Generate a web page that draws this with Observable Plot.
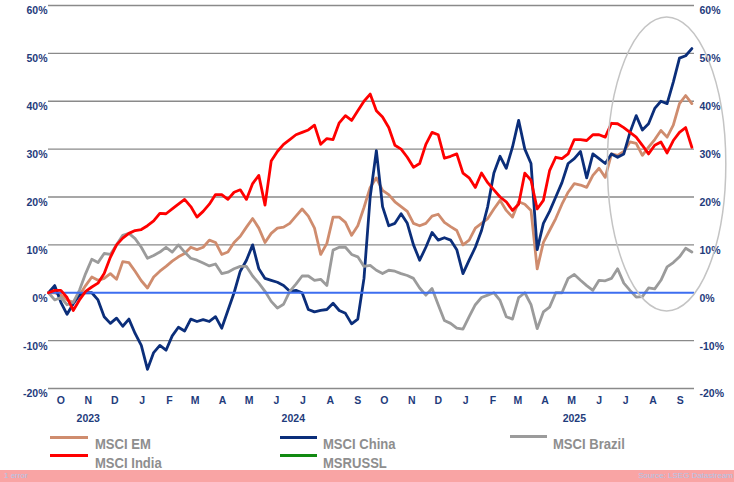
<!DOCTYPE html>
<html>
<head>
<meta charset="utf-8">
<script src="https://cdn.jsdelivr.net/npm/d3@7"></script>
<script src="https://cdn.jsdelivr.net/npm/@observablehq/plot@0.6"></script>
<style>
  body { margin: 0; background: #fff; }
  #wrap { position: relative; width: 734px; height: 482px; overflow: hidden; font-family: Arial, "Liberation Sans", sans-serif; }
  #chart { position: absolute; left: 0; top: 0; }
  .sw { position: absolute; height: 3px; }
  .lg { position: absolute; font-size: 15px; font-weight: bold; color: #8e8e8e; line-height: 15px; white-space: nowrap; transform: scaleX(0.87); transform-origin: left center; }
  #bar { position: absolute; left: 0; top: 470px; width: 734px; height: 12px; background: #f9a4a4; }
  .bt { position: absolute; top: 471px; font-size: 8px; line-height: 10px; color: #b0c6e8; white-space: nowrap; }
</style>
</head>
<body>
<div id="wrap">
  <div id="chart"></div>
  <div id="legend"></div>
  <div id="bar"></div>
  <div class="bt" style="left:4px">1 error</div>
  <div class="bt" style="right:1px">Source: LSEG Datastream</div>
</div>
<script>
// ---- data (weekly readings, % change since start) ----
const startDate = "2023-10-01";
const endDate = "2025-10-01";

const emValues = [0,0,-0.5,-1.5,-2,-0.5,1.5,3.3,2.6,3,
  4,2.8,6.5,6.3,4.5,2.5,1,3.3,4.5,5.5,
  6.6,7.5,8.2,9.5,9,9.5,11,10.5,8,8.5,
  10.5,11.8,13.7,15.5,13.5,10.5,12.4,13.5,13.7,14.5,
  16,17.5,16,13.5,8,10.3,15.8,15.8,14.7,12,
  14,17.8,22,24,21.4,20.5,19,18,17,14.5,
  14,14.5,16,16.4,14.7,13.8,13,10,11,13.5,
  14.5,15.5,17.5,19.3,17.2,15.8,19,18.5,17.2,5,
  10.5,13,15.5,18.5,21,22.8,22.5,22,24.5,26,
  24.1,29,28.7,29.5,31.5,31.2,28.7,30.4,32,33.9,
  32.5,35,39.5,41.2,39.5];

const chinaValues = [0,1.5,-2,-4.5,-2.3,-0.5,0,0,-1.5,-5,
  -6.4,-5.3,-7,-5.5,-8.5,-11,-16,-12.5,-11,-12,
  -9,-7.2,-8,-5.5,-6,-5.6,-6,-5,-7.4,-3.7,
  0,4.5,6.8,10,5,3,2.6,2.2,1.5,0.3,
  0.5,0,-3.5,-4,-3.7,-3.5,-2.2,-3.7,-4.3,-6.5,
  -5.5,3,20,29.7,18,14,14.5,16.5,14.5,10,
  6.8,9.5,12.6,11,11.5,11,9,4,6.8,9.5,
  13,18,25,28.5,26,30.4,36,30,27,9,
  14.5,17,20,23,27,28,29.5,24,29,28,
  27,29,28.3,29,33.5,37,34,35.3,38.5,40,
  39.5,44,49,49.5,51];

const brazilValues = [0,-1.5,-1,-2.5,-2,0.5,4,7,6.3,8.2,
  8,10,12,12.4,11.3,9.5,7.2,7.8,8.5,9.5,
  8.5,10,8.5,7.2,6.8,6.2,5.6,6,4,4.3,
  5,5.5,5.5,3.5,2,0.3,-1.8,-3.2,-2.4,0.3,
  1.8,3.5,3.5,2.6,2.8,1.5,8.9,9.5,9.5,8,
  7.5,5.5,5.7,4.7,4,4.7,4.5,4,3.6,3,
  1,-0.5,0.9,-2.5,-5.8,-6.4,-7.4,-7.6,-5,-2.5,
  -1,-0.5,0,-1.6,-5,-5.5,-1,0,-2.5,-7.5,
  -4,-3,0,0,3,3.8,2.6,1.5,0.5,2.6,
  2.5,3,5,2,0.5,-0.9,-0.8,1,0.8,2.6,
  5.4,6.3,7.5,9.3,8.5];

const indiaValues = [0,0.5,0.5,-1,-3.7,-1.5,0.3,1.2,2,4,
  7.4,10,11.4,12.4,13,13.2,14,15,16.6,16.5,
  17.5,18.5,19.5,18,15.8,17,18.5,20.5,20.5,19.5,
  21,21.5,19.5,22.8,24.5,18.3,27.5,29.5,31,32,
  33,33.5,34,35,31,32.2,32,35.5,37,36,
  38,40,41.5,38,36.7,34.5,30.8,30,28.3,26.2,
  27,31,33.5,33,28.1,28.5,29,25,24,22,
  25,23,21.5,20,19,17.2,18.5,25,23.5,17.5,
  19.3,25.5,28.3,28,29,32,32,31.8,33,33,
  32.5,35.4,35.3,34.5,33.5,32.5,30.8,29,30.8,31.5,
  29.2,31.8,33.5,34.5,30.4];

const russiaValues = [];

const seriesNames = ["MSCI EM", "MSCI China", "MSCI Brazil", "MSCI India", "MSRUSSL"];
const seriesColors = ["#cf8c6e", "#0b2e7a", "#9b9b9b", "#ff0000", "#128a12"];

const yTicks = [-20, -10, 0, 10, 20, 30, 40, 50, 60];
const gridLevels = [-20, -10, 10, 20, 30, 40, 50, 60];
const monthLabels = ["O","N","D","J","F","M","A","M","J","J","A","S",
                     "O","N","D","J","F","M","A","M","J","J","A","S"];
const yearLabels = ["2023", "2024", "2025"];
const yearDates = ["2023-11-15", "2024-07-04", "2025-05-18"];

// highlight ellipse annotation (data space)
const ellipseCenterDate = "2025-08-31";
const ellipseHalfDays = 67;
const ellipseCenterValue = 26.8;
const ellipseHalfValue = 30.7;

// ---- build ----
const x0 = new Date(startDate), x1 = new Date(endDate);
const weekDates = emValues.map((_, i) => d3.utcDay.offset(x0, 7 * i));
const toRows = vals => vals.map((v, i) => ({date: weekDates[i], value: v}));
const monthMids = d3.utcMonth.range(x0, x1).map(d => d3.utcDay.offset(d, 14));

const lineOpts = c => ({x: "date", y: "value", stroke: c, strokeWidth: 2.8, strokeLinejoin: "round"});

const chart = Plot.plot({
  width: 734,
  height: 430,
  marginLeft: 48,
  marginRight: 40,
  marginTop: 5,
  marginBottom: 42,
  style: {fontFamily: "Arial, 'Liberation Sans', sans-serif", fontSize: "10.5px", fontWeight: "bold", color: "#1f3c7c", background: "transparent"},
  x: {type: "utc", domain: [x0, x1], axis: null},
  y: {domain: [-20, 60], axis: null},
  marks: [
    Plot.ruleY(gridLevels, {stroke: "#8a8a8a", strokeWidth: 1.3}),
    Plot.line(toRows(emValues), lineOpts(seriesColors[0])),
    Plot.line(toRows(chinaValues), lineOpts(seriesColors[1])),
    Plot.line(toRows(brazilValues), lineOpts(seriesColors[2])),
    Plot.ruleY([0], {stroke: "#3d6ef0", strokeWidth: 2}),
    Plot.line(toRows(indiaValues), lineOpts(seriesColors[3])),
    Plot.axisY(yTicks, {anchor: "left", label: null, tickSize: 0, tickPadding: 1, dy: 5.5, tickFormat: d => d + "%"}),
    Plot.axisY(yTicks, {anchor: "right", label: null, tickSize: 0, tickPadding: 5, dy: 5.5, tickFormat: d => d + "%"}),
    Plot.text(monthMids, {x: d => d, text: (d, i) => monthLabels[i], frameAnchor: "bottom", dy: 15.3, fill: "#1f3c7c"}),
    Plot.text(yearDates, {x: d => new Date(d), text: (d, i) => yearLabels[i], frameAnchor: "bottom", dy: 33.5, fill: "#1f3c7c"})
  ]
});
document.getElementById("chart").appendChild(chart);

// ellipse annotation positioned through the plot's scales
{
  const xs = chart.scale("x"), ys = chart.scale("y");
  const fx = d => xs.apply ? xs.apply(d) : d3.scaleUtc(xs.domain, xs.range)(d);
  const fy = v => ys.apply ? ys.apply(v) : d3.scaleLinear(ys.domain, ys.range)(v);
  const c = new Date(ellipseCenterDate);
  const cx = fx(c), cy = fy(ellipseCenterValue);
  const rx = fx(d3.utcDay.offset(c, ellipseHalfDays)) - cx;
  const ry = fy(ellipseCenterValue - ellipseHalfValue) - cy;
  d3.select(chart).append("ellipse")
    .attr("cx", cx).attr("cy", cy).attr("rx", rx).attr("ry", ry)
    .attr("fill", "none").attr("stroke", "#c4c4c4").attr("stroke-width", 1.5);
}

// legend (HTML, below the SVG)
const legendItems = [
  {i: 0, sx: 50, sy: 435.5, w: 38, tx: 95, ty: 435.5},
  {i: 1, sx: 280, sy: 435.5, w: 37, tx: 323, ty: 435.5},
  {i: 2, sx: 510, sy: 434.5, w: 37, tx: 553, ty: 435.5},
  {i: 3, sx: 50, sy: 453.5, w: 38, tx: 95, ty: 454.5},
  {i: 4, sx: 280, sy: 453.5, w: 37, tx: 323, ty: 454.5}
];
const leg = document.getElementById("legend");
legendItems.forEach(it => {
  const s = document.createElement("div");
  s.className = "sw";
  s.style.cssText = `left:${it.sx}px;top:${it.sy}px;width:${it.w}px;background:${seriesColors[it.i]}`;
  leg.appendChild(s);
  const t = document.createElement("div");
  t.className = "lg";
  t.style.cssText = `left:${it.tx}px;top:${it.ty}px`;
  t.textContent = seriesNames[it.i];
  leg.appendChild(t);
});
</script>
</body>
</html>
